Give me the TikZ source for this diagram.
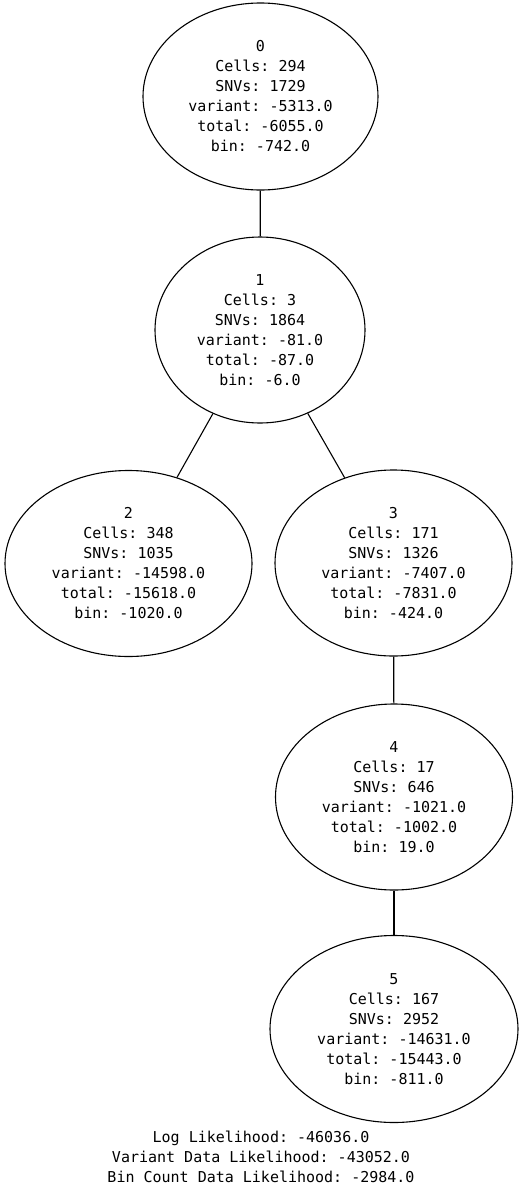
\documentclass[tikz,border=0pt]{standalone}
\usepackage{fontspec}
\setmonofont{DejaVu Sans Mono}
\usetikzlibrary{shapes.geometric}
\begin{document}
\begin{tikzpicture}[x=1pt,y=1pt,
  treenode/.style={ellipse,draw,line width=1.1pt,inner sep=0pt,align=center,
    font=\ttfamily\fontsize{15}{20}\selectfont},
  edge/.style={line width=1.1pt}]
\useasboundingbox (0,0) rectangle (523,-1192);
\node[treenode,minimum width=235,minimum height=187] (n0) at (260.5,-96.5)
  {0\\Cells: 294\\SNVs: 1729\\variant: -5313.0\\total: -6055.0\\bin: -742.0};
\node[treenode,minimum width=210,minimum height=186] (n1) at (260,-330)
  {1\\Cells: 3\\SNVs: 1864\\variant: -81.0\\total: -87.0\\bin: -6.0};
\node[treenode,minimum width=247,minimum height=186] (n2) at (128.5,-563.5)
  {2\\Cells: 348\\SNVs: 1035\\variant: -14598.0\\total: -15618.0\\bin: -1020.0};
\node[treenode,minimum width=237,minimum height=186] (n3) at (393.5,-563)
  {3\\Cells: 171\\SNVs: 1326\\variant: -7407.0\\total: -7831.0\\bin: -424.0};
\node[treenode,minimum width=237,minimum height=186] (n4) at (394,-797)
  {4\\Cells: 17\\SNVs: 646\\variant: -1021.0\\total: -1002.0\\bin: 19.0};
\node[treenode,minimum width=248,minimum height=187] (n5) at (394,-1029)
  {5\\Cells: 167\\SNVs: 2952\\variant: -14631.0\\total: -15443.0\\bin: -811.0};
\draw[edge] (n0) -- (n1);
\draw[edge] (n1) -- (n2);
\draw[edge] (n1) -- (n3);
\draw[edge] (n3) -- (n4);
\draw[edge] (n4) -- (n5);
\node[align=center,inner sep=0pt,font=\ttfamily\fontsize{15}{20}\selectfont] (lik) at (261,-1157)
  {Log Likelihood: -46036.0\\Variant Data Likelihood: -43052.0\\Bin Count Data Likelihood: -2984.0};
\end{tikzpicture}
\end{document}
